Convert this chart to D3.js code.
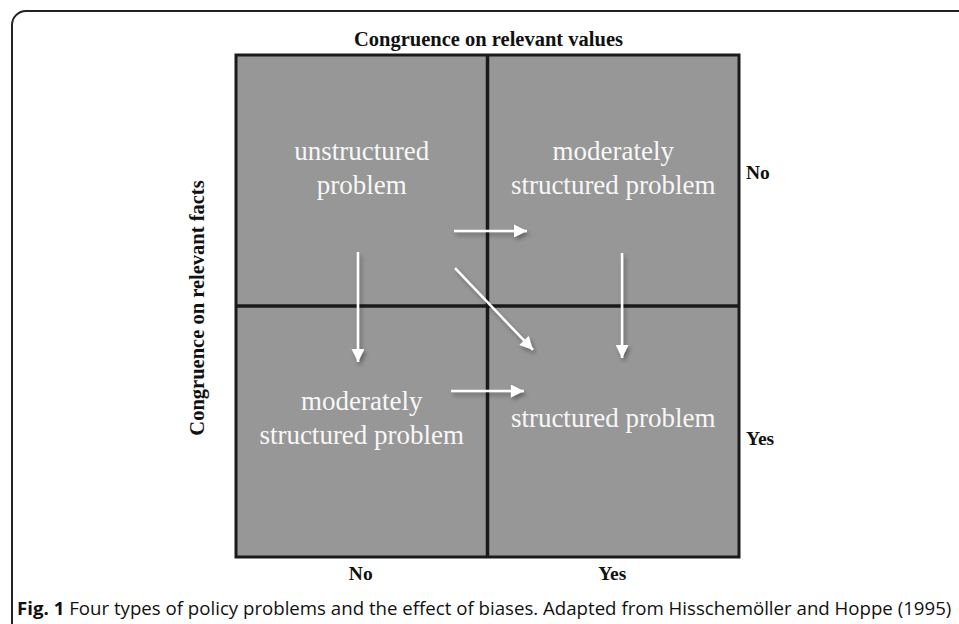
<!DOCTYPE html>
<html>
<head>
<meta charset="utf-8">
<script src="https://cdn.jsdelivr.net/npm/d3@7"></script>
<style>
  body { margin: 0; background: #fff; }
  svg { display: block; }
</style>
</head>
<body>
<svg id="chart"></svg>
<script>
var WIDTH = 959;
var HEIGHT = 624;
var GRID = { left: 236, top: 55, right: 739, bottom: 557 };

// axis categories
var factCategories = ["No", "Yes"];     // rows (right side)
var valueCategories = ["No", "Yes"];    // columns (bottom)

// quadrant labels: col, lines
var quadrantCols = [0, 1, 0, 1];
var quadrantLines = [
    ["unstructured", "problem"],
    ["moderately", "structured problem"],
    ["moderately", "structured problem"],
    ["structured problem"]
];
// quadrant text baselines in grid units
var quadrantBaselines = [
    [0.42, 0.555],
    [0.42, 0.555],
    [1.415, 1.55],
    [1.482]
];

// arrows (grid units, 0..2 on both axes)
var arrowX1 = [0.485, 0.871, 0.867, 0.855, 1.535];
var arrowY1 = [0.785, 0.849, 0.701, 1.339, 0.789];
var arrowX2 = [0.485, 1.181, 1.157, 1.145, 1.535];
var arrowY2 = [1.223, 1.175, 0.701, 1.339, 1.207];

var titleTop = "Congruence on relevant values";
var titleLeft = "Congruence on relevant facts";
var captionBold = "Fig. 1";
var captionText = " Four types of policy problems and the effect of biases. Adapted from Hisschemöller and Hoppe (1995)";

function main() {
    var svg = d3.select("#chart").attr("width", WIDTH).attr("height", HEIGHT);

    var x = d3.scaleLinear().domain([0, 2]).range([GRID.left, GRID.right]);
    var y = d3.scaleLinear().domain([0, 2]).range([GRID.top, GRID.bottom]);
    var xBand = d3.scaleBand().domain(valueCategories).range([GRID.left, GRID.right]);

    var defs = svg.append("defs");
    // user space region so straight lines (zero-size bbox) still get a shadow
    var shadow = defs.append("filter").attr("id", "shadow")
        .attr("filterUnits", "userSpaceOnUse")
        .attr("x", 0).attr("y", 0).attr("width", WIDTH).attr("height", HEIGHT);
    shadow.append("feDropShadow")
        .attr("dx", 2).attr("dy", 3).attr("stdDeviation", 2)
        .attr("flood-color", "#000").attr("flood-opacity", 0.35);
    defs.append("marker")
        .attr("id", "head")
        .attr("viewBox", "0 0 10 10")
        .attr("refX", 10).attr("refY", 5)
        .attr("markerUnits", "userSpaceOnUse")
        .attr("markerWidth", 15).attr("markerHeight", 13)
        .attr("orient", "auto")
        .append("path")
        .attr("d", "M0,0 L10,5 L0,10 Z")
        .attr("fill", "#fff");

    // outer frame, runs off the right and bottom edges
    svg.append("rect")
        .attr("x", 12).attr("y", 11)
        .attr("width", WIDTH + 20).attr("height", HEIGHT + 20)
        .attr("rx", 14).attr("ry", 14)
        .attr("fill", "none")
        .attr("stroke", "#222")
        .attr("stroke-width", 2);

    // grid background + outline
    svg.append("rect")
        .attr("x", x(0)).attr("y", y(0))
        .attr("width", x(2) - x(0)).attr("height", y(2) - y(0))
        .attr("fill", "#979797")
        .attr("stroke", "#1a1a1a")
        .attr("stroke-width", 3);

    svg.append("line")
        .attr("x1", x(1)).attr("x2", x(1)).attr("y1", y(0)).attr("y2", y(2))
        .attr("stroke", "#1a1a1a").attr("stroke-width", 3.5);
    svg.append("line")
        .attr("x1", x(0)).attr("x2", x(2)).attr("y1", y(1)).attr("y2", y(1))
        .attr("stroke", "#1a1a1a").attr("stroke-width", 3.5);

    // quadrant labels
    var quad = svg.selectAll(".quad")
        .data(quadrantLines)
        .enter().append("text")
        .attr("class", "quad")
        .attr("text-anchor", "middle")
        .style("font", "27px 'Liberation Serif', 'Times New Roman', serif")
        .attr("fill", "#f7f7f7");
    quad.each(function(lines, i) {
        var cx = x(quadrantCols[i] + 0.5);
        d3.select(this).selectAll("tspan")
            .data(lines)
            .enter().append("tspan")
            .attr("x", cx)
            .attr("y", function(d, j) { return y(quadrantBaselines[i][j]); })
            .text(function(d) { return d; });
    });

    // arrows
    svg.selectAll(".arrow")
        .data(arrowX1)
        .enter().append("line")
        .attr("class", "arrow")
        .attr("x1", function(d, i) { return x(arrowX1[i]); })
        .attr("y1", function(d, i) { return y(arrowY1[i]); })
        .attr("x2", function(d, i) { return x(arrowX2[i]); })
        .attr("y2", function(d, i) { return y(arrowY2[i]); })
        .attr("stroke", "#fff")
        .attr("stroke-width", 2.5)
        .attr("marker-end", "url(#head)")
        .attr("filter", "url(#shadow)");

    var boldSerif = "bold 20.5px 'Liberation Serif', 'Times New Roman', serif";
    var catFont = "bold 19.5px 'Liberation Serif', 'Times New Roman', serif";

    svg.append("text")
        .attr("x", (GRID.left + GRID.right) / 2 + 1)
        .attr("y", 46)
        .attr("text-anchor", "middle")
        .style("font", boldSerif)
        .attr("fill", "#111")
        .text(titleTop);

    svg.append("text")
        .attr("transform", "translate(204," + ((GRID.top + GRID.bottom) / 2 + 2) + ") rotate(-90)")
        .attr("text-anchor", "middle")
        .style("font", boldSerif)
        .attr("fill", "#111")
        .text(titleLeft);

    // right side: facts categories
    svg.selectAll(".rowlab")
        .data(factCategories)
        .enter().append("text")
        .attr("class", "rowlab")
        .attr("x", GRID.right + 7)
        .attr("y", function(d, i) { return i == 0 ? 179 : 445; })
        .style("font", catFont)
        .attr("fill", "#111")
        .text(function(d) { return d; });

    // bottom: values categories
    svg.selectAll(".collab")
        .data(valueCategories)
        .enter().append("text")
        .attr("class", "collab")
        .attr("x", function(d) { return xBand(d) + xBand.bandwidth() / 2 - 1; })
        .attr("y", 580)
        .attr("text-anchor", "middle")
        .style("font", catFont)
        .attr("fill", "#111")
        .text(function(d) { return d; });

    // caption, squeezed to fit like the condensed original
    var cap = svg.append("text")
        .attr("x", 0).attr("y", 0)
        .style("font", "17.5px 'Open Sans', sans-serif")
        .attr("fill", "#111");
    cap.append("tspan").attr("font-weight", "bold").text(captionBold);
    cap.append("tspan").text(captionText);
    var w = cap.node().getComputedTextLength();
    var left = 17, right = 952;
    cap.attr("transform", "translate(" + left + ",615) scale(" + ((right - left) / w) + ",1)");
}

main();
</script>
</body>
</html>
